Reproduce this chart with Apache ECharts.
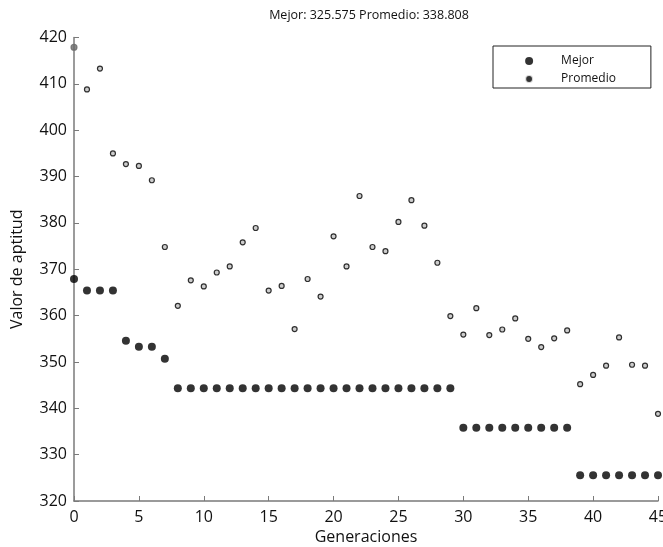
<!DOCTYPE html>
<html>
<head>
<meta charset="utf-8">
<script src="https://cdn.jsdelivr.net/npm/echarts@6/dist/echarts.min.js"></script>
<style>
html,body{margin:0;padding:0;background:#fff;}
#chart{width:663px;height:547px;}
</style>
</head>
<body>
<div id="chart"></div>
<script>
const titleText = 'Mejor: 325.575 Promedio: 338.808';
const xName = 'Generaciones';
const yName = 'Valor de aptitud';
const seriesNames = ['Mejor', 'Promedio'];
const generations = [0,1,2,3,4,5,6,7,8,9,10,11,12,13,14,15,16,17,18,19,20,21,22,23,24,25,26,27,28,29,30,31,32,33,34,35,36,37,38,39,40,41,42,43,44,45];
const mejor = [367.9,365.4,365.4,365.4,354.6,353.3,353.3,350.7,
  344.3,344.3,344.3,344.3,344.3,344.3,344.3,344.3,344.3,344.3,344.3,344.3,344.3,344.3,344.3,344.3,344.3,344.3,344.3,344.3,344.3,344.3,
  335.8,335.8,335.8,335.8,335.8,335.8,335.8,335.8,335.8,
  325.575,325.575,325.575,325.575,325.575,325.575,325.575];
const promedio = [417.9,408.8,413.3,395.0,392.7,392.3,389.2,374.8,362.1,367.6,
  366.3,369.3,370.6,375.8,378.9,365.4,366.4,357.1,367.9,364.1,
  377.1,370.6,385.8,374.8,373.9,380.2,384.9,379.4,371.4,359.9,
  355.9,361.6,355.8,357.0,359.4,355.0,353.2,355.1,356.8,345.2,
  347.2,349.2,355.3,349.4,349.2,338.808];
const xTicks = {min: 0, max: 45, interval: 5};
const yTicks = {min: 320, max: 420, interval: 10};

const font = 'Open Sans';
const chart = echarts.init(document.getElementById('chart'), null, {renderer: 'canvas'});
const pairs = (ys) => generations.map((g, i) => [g, ys[i]]);
const promedioData = pairs(promedio).map((p, i) => i === 0
  ? {value: p, itemStyle: {color: '#6a6a6a', borderColor: '#6a6a6a'}, symbolSize: 6}
  : p);
const axisCommon = {
  axisLine: {show: true, lineStyle: {color: '#7a7a7a', width: 1.5}},
  axisTick: {show: true, inside: true, length: 5, lineStyle: {color: '#7a7a7a', width: 1}},
  splitLine: {show: false},
  axisLabel: {color: '#111', fontSize: 16, fontFamily: font},
  nameTextStyle: {color: '#111', fontSize: 16, fontFamily: font},
  nameLocation: 'middle'
};
chart.setOption({
  animation: false,
  backgroundColor: '#fff',
  title: {
    text: titleText, left: 364, top: 4, textAlign: 'center',
    textStyle: {color: '#111', fontSize: 12.5, fontWeight: 'normal', fontFamily: font}
  },
  grid: {left: 74, right: 5, top: 37.5, bottom: 46, containLabel: false, outerBoundsMode: 'none'},
  legend: {
    orient: 'vertical', left: 493, top: 46,
    padding: [8, 35, 2, 31],
    itemWidth: 54, itemHeight: 8, itemGap: 4,
    borderColor: '#222', borderWidth: 1, backgroundColor: '#fff',
    textStyle: {color: '#111', fontSize: 12, lineHeight: 14, fontFamily: font},
    data: [
      {name: seriesNames[0], icon: 'circle'},
      {name: seriesNames[1], icon: 'circle', itemStyle: {borderWidth: 2.2, borderColor: '#fff', color: '#000'}}
    ]
  },
  xAxis: Object.assign({}, axisCommon, {
    type: 'value', min: xTicks.min, max: xTicks.max, interval: xTicks.interval,
    name: xName, nameGap: 26,
    axisLabel: Object.assign({}, axisCommon.axisLabel, {margin: 8})
  }),
  yAxis: Object.assign({}, axisCommon, {
    type: 'value', min: yTicks.min, max: yTicks.max, interval: yTicks.interval,
    name: yName, nameGap: 49,
    axisLabel: Object.assign({}, axisCommon.axisLabel, {margin: 7})
  }),
  series: [
    {
      name: seriesNames[0], type: 'scatter', data: pairs(mejor),
      symbol: 'circle', symbolSize: 8, clip: false,
      itemStyle: {color: '#000'}
    },
    {
      name: seriesNames[1], type: 'scatter', data: promedioData,
      symbol: 'circle', symbolSize: 5, clip: false,
      itemStyle: {color: '#c0c0c0', borderColor: '#000', borderWidth: 1.2}
    }
  ]
});
</script>
</body>
</html>
